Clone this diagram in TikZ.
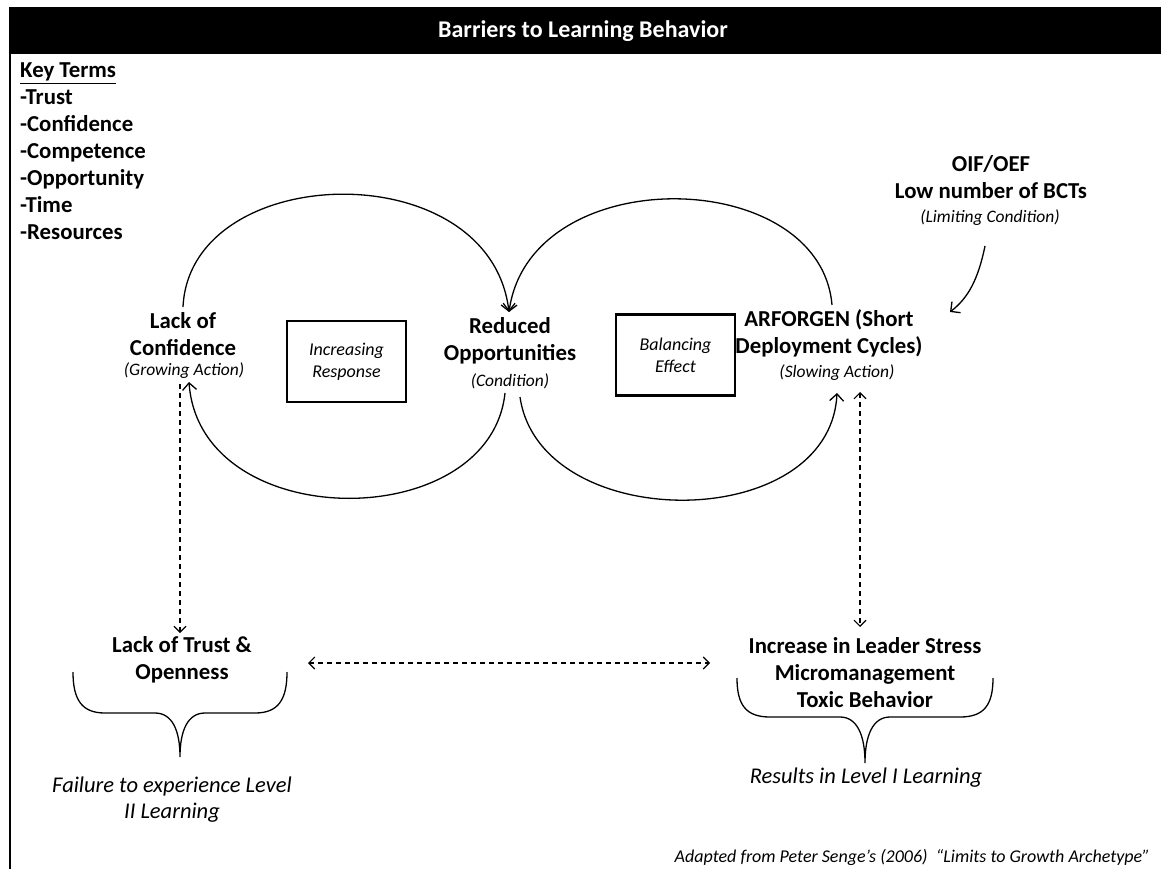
\documentclass[tikz,border=0pt]{standalone}
\usepackage{fontspec}
\setmainfont{Carlito}
\usetikzlibrary{arrows.meta}
\begin{document}
\begin{tikzpicture}[x=1pt,y=-1pt,
  lbl/.style={font=\fontsize{22.8}{27}\selectfont\bfseries, align=center, inner sep=0pt},
  subtxt/.style={font=\fontsize{17.5}{20}\selectfont\itshape, inner sep=0pt},
  boxtxt/.style={draw, line width=2.5pt, minimum width=119pt, minimum height=81pt, align=center, inner sep=0pt, font=\fontsize{18}{22}\selectfont\itshape},
  loopline/.style={line width=1.3pt, -{Straight Barb[length=7pt,width=14pt]}},
  dasharrow/.style={line width=1.1pt, dash pattern=on 5pt off 4pt, {Straight Barb[length=6pt,width=12pt]}-{Straight Barb[length=6pt,width=12pt]}},
  dashone/.style={line width=1.1pt, dash pattern=on 5pt off 4pt, -{Straight Barb[length=6pt,width=12pt]}},
  bracepath/.style={line width=1.3pt},
  note/.style={font=\fontsize{22.5}{26}\selectfont\itshape, align=center, inner sep=0pt}
]
\useasboundingbox (0,0) rectangle (1161,869);
% title bar and frame
\fill[black] (9,7) rectangle (1161,54);
\node[font=\fontsize{24}{28}\selectfont\bfseries, text=white, inner sep=0pt] (title) at (583,31) {Barriers to Learning Behavior};
\draw[line width=1.5pt] (10,54) -- (10,869);

% key terms
\node[anchor=north west, align=left, inner sep=0pt, font=\fontsize{22.8}{27}\selectfont\bfseries] (keys) at (20,63)
 {\underline{Key Terms}\\-Trust\\-Confidence\\-Competence\\-Opportunity\\-Time\\-Resources};

% main labels
\node[lbl] (conf) at (183,334) {Lack of\\Confidence};
\node[subtxt, anchor=north] (confs) at (184,363) {(Growing Action)};
\node[lbl] (opp) at (510,341) {Reduced\\Opportunities};
\node[subtxt] (opps) at (510,381) {(Condition)};
\node[lbl] (arf) at (829,333) {ARFORGEN (Short\\Deployment Cycles)};
\node[subtxt] (arfs) at (837,373) {(Slowing Action)};
\node[lbl] (oif) at (991,177) {OIF/OEF\\Low number of BCTs};
\node[subtxt] (oifs) at (990,218) {(Limiting Condition)};

\node[boxtxt] (inc) at (346.5,361.5) {Increasing\\Response};
\node[boxtxt] (bal) at (675.5,355) {Balancing\\Effect};

% loop coordinates
\coordinate (cTop) at (183,307);
\coordinate (oIn) at (509,312);
\coordinate (oOutL) at (505,393);
\coordinate (cIn) at (189,382);
\coordinate (aTop) at (832,305);
\coordinate (oOutR) at (520,397);
\coordinate (aIn) at (837,393);

\draw[loopline] (cTop) .. controls (190,160) and (490,152) .. (oIn);
\draw[loopline] (oOutL) .. controls (490,535) and (200,535) .. (cIn);
\draw[loopline] (aTop) .. controls (820,165) and (530,160) .. (oIn);
\draw[loopline] (oOutR) .. controls (540,535) and (830,535) .. (aIn);

% limiting condition arrow
\coordinate (limS) at (985,246);
\coordinate (limE) at (950,312);
\draw[loopline] (limS) .. controls (978,280) and (968,298) .. (limE);

% bottom labels
\node[lbl] (trust) at (182,660) {Lack of Trust \&\\Openness};
\node[lbl] (stress) at (865,673) {Increase in Leader Stress\\Micromanagement\\Toxic Behavior};
\node[note] (fail) at (172,800) {Failure to experience Level\\II Learning};
\node[note] (res) at (866,778) {Results in Level I Learning};
\node[anchor=east, inner sep=0pt, font=\fontsize{18}{20}\selectfont\itshape] (cred) at (1150,857)
 {Adapted from Peter Senge’s (2006)\ \ “Limits to Growth Archetype”};

% dashed connectors
\coordinate (d1s) at (180,384);
\coordinate (d1e) at (180,633);
\draw[dashone] (d1s) -- (d1e);
\coordinate (d2s) at (860,392);
\coordinate (d2e) at (860,627);
\draw[dasharrow] (d2s) -- (d2e);
\coordinate (d3s) at (308,663);
\coordinate (d3e) at (710,663);
\draw[dasharrow] (d3s) -- (d3e);

% braces
\coordinate (b1l) at (73,672);
\coordinate (b1r) at (287,672);
\coordinate (b1c) at (180,757);
\draw[bracepath] (b1l) .. controls (73,700) and (82,713) .. (105,713) -- (155,713)
  .. controls (172,713) and (180,730) .. (b1c)
  .. controls (180,730) and (188,713) .. (205,713) -- (255,713)
  .. controls (278,713) and (287,700) .. (b1r);
\coordinate (b2l) at (737,678);
\coordinate (b2r) at (993,678);
\coordinate (b2c) at (865,763);
\draw[bracepath] (b2l) .. controls (737,705) and (746,717) .. (770,717) -- (840,717)
  .. controls (857,717) and (865,735) .. (b2c)
  .. controls (865,735) and (873,717) .. (890,717) -- (960,717)
  .. controls (984,717) and (993,705) .. (b2r);
\end{tikzpicture}
\end{document}
